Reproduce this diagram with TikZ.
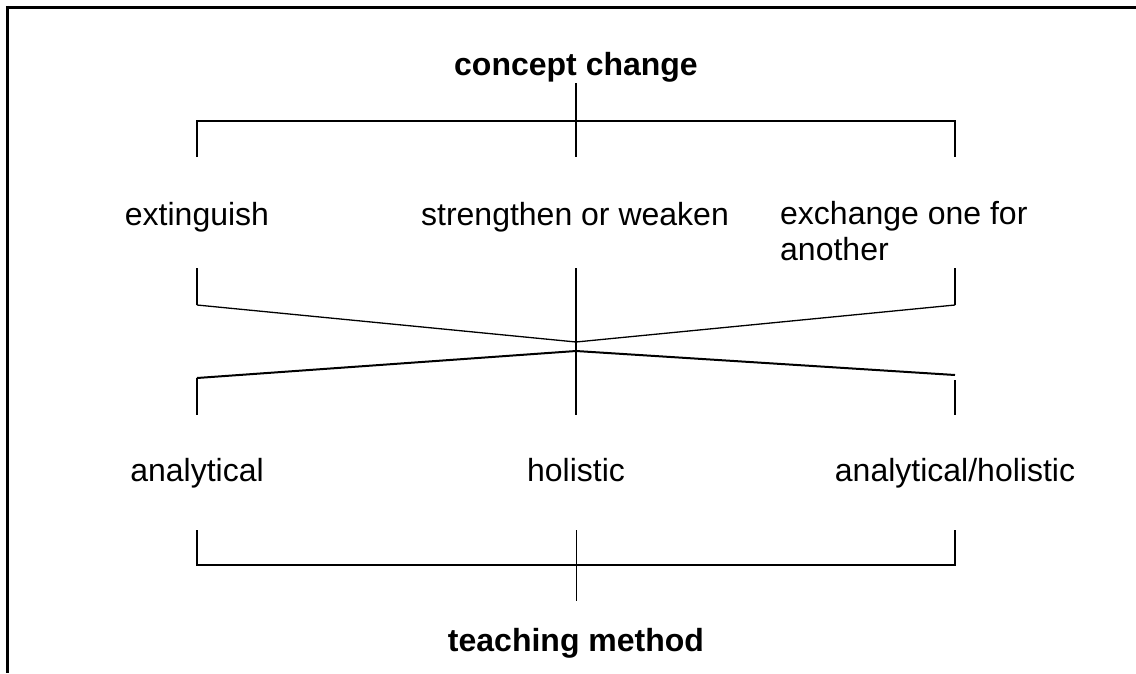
\documentclass[tikz,border=0pt]{standalone}
\usepackage{fontspec}
\setmainfont{Liberation Sans}
\begin{document}
\begin{tikzpicture}[x=1pt,y=-1pt,
  lbl/.style={inner sep=0pt, anchor=base, font=\fontsize{32}{36}\selectfont},
  head/.style={lbl, font=\fontsize{32}{36}\selectfont\bfseries},
  conn/.style={line width=2pt, line cap=butt},
  thinconn/.style={line width=1.3pt},
  frame/.style={line width=3.5pt}]
\useasboundingbox (0,0) rectangle (1136,673);
% frame
\coordinate (fTL) at (5.75,7.5);
\coordinate (fTR) at (1136,7.5);
\coordinate (fTL2) at (7.5,5.75);
\coordinate (fBL) at (7.5,673);
\draw[frame] (fTL) -- (fTR);
\draw[frame] (fTL2) -- (fBL);
% labels
\node[head] (cc) at (576,75) {concept change};
\node[lbl] (ext) at (197,225) {extinguish};
\node[lbl] (sow) at (575,225) {strengthen or weaken};
\node[lbl, anchor=base west, align=left] (exo) at (780,260) {exchange one for\\another};
\node[lbl] (ana) at (197,481) {analytical};
\node[lbl] (hol) at (576,481) {holistic};
\node[lbl] (ah) at (955,481) {analytical/holistic};
\node[head] (tm) at (576,651) {teaching method};
% top bracket
\coordinate (t0) at (576,83);
\coordinate (tL) at (197,121);
\coordinate (tR) at (955,121);
\coordinate (tLd) at (197,157);
\coordinate (tMd) at (576,157);
\coordinate (tRd) at (955,157);
\draw[conn] (t0) -- (tMd);
\draw[conn] (tLd) -- (tL) -- (tR) -- (tRd);
% cross
\coordinate (uL) at (197,268);
\coordinate (uLb) at (197,305);
\coordinate (uR) at (955,268);
\coordinate (uRb) at (955,305);
\coordinate (cU) at (576,342);
\coordinate (cL) at (576,351);
\coordinate (lL) at (197,378);
\coordinate (lLb) at (197,415);
\coordinate (lR) at (955,375);
\coordinate (lRt) at (955,380);
\coordinate (lRb) at (955,415);
\coordinate (cTop) at (576,268);
\coordinate (cBot) at (576,415);
\draw[conn] (uL) -- (uLb);
\draw[conn] (uR) -- (uRb);
\draw[thinconn] (uLb) -- (cU) -- (uRb);
\draw[conn] (lL) -- (cL) -- (lR);
\draw[conn] (lL) -- (lLb);
\draw[conn] (lRt) -- (lRb);
\draw[conn] (cTop) -- (cBot);
% bottom bracket
\coordinate (bLt) at (197,530);
\coordinate (bL) at (197,565);
\coordinate (bR) at (955,565);
\coordinate (bRt) at (955,530);
\coordinate (bMt) at (576,530);
\coordinate (bMb) at (576,601);
\draw[conn] (bLt) -- (bL) -- (bR) -- (bRt);
\draw[line width=1pt] (bMt) -- (bMb);
\end{tikzpicture}
\end{document}
